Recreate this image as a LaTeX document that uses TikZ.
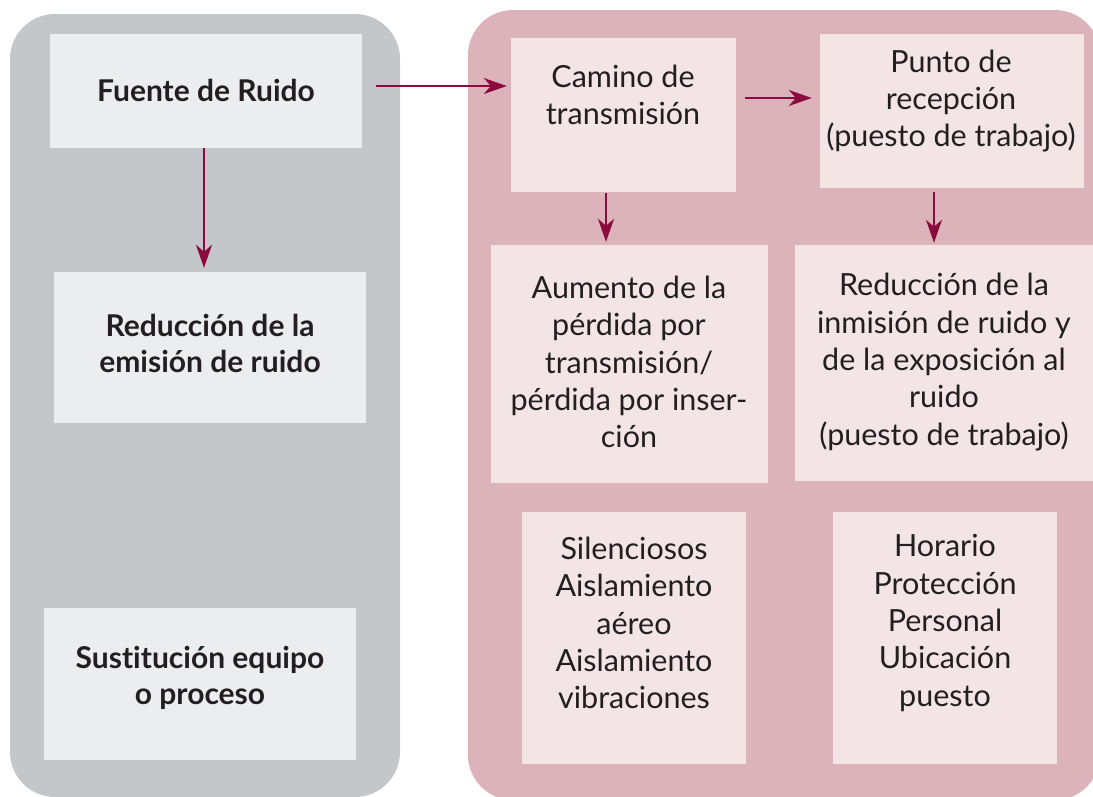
\documentclass[tikz,border=0pt]{standalone}
\usepackage{fontspec}
\setmainfont{Lato}[Ligatures={NoCommon}]
\usetikzlibrary{arrows.meta}
\definecolor{panelgray}{HTML}{C4C7CA}
\definecolor{boxgray}{HTML}{ECEDEF}
\definecolor{panelpink}{HTML}{DCB3BA}
\definecolor{boxpink}{HTML}{F3E4E6}
\definecolor{arrowred}{HTML}{8C0B3F}
\definecolor{txtcol}{HTML}{231F20}
\begin{document}
\begin{tikzpicture}[x=1pt,y=-1pt,
  graybox/.style={fill=boxgray, draw=none, inner sep=0pt},
  pinkbox/.style={fill=boxpink, draw=none, inner sep=0pt},
  txt/.style={text=txtcol, align=center, inner sep=0pt, font=\fontsize{30.5}{37.3}\selectfont},
  btxt/.style={txt, font=\fontsize{30}{36}\selectfont\bfseries},
  arr/.style={draw=arrowred, line width=2pt, -{Stealth[length=23pt,width=16pt,inset=7pt]}}
]
\useasboundingbox (0,0) rectangle (1093,796);
% panels
\fill[panelgray, rounded corners=45pt] (10,14) rectangle (400,797);
\fill[panelpink, rounded corners=45pt] (468,10) rectangle (1100,800);
% boxes
\node[graybox, minimum width=312pt, minimum height=114pt] (fuente) at (206,91) {};
\node[graybox, minimum width=312pt, minimum height=151pt] (redem) at (210,347.5) {};
\node[graybox, minimum width=312pt, minimum height=152pt] (sust) at (200,684) {};
\node[pinkbox, minimum width=225pt, minimum height=154pt] (camino) at (623.5,115) {};
\node[pinkbox, minimum width=264pt, minimum height=154pt] (punto) at (952,111) {};
\node[pinkbox, minimum width=277pt, minimum height=238pt] (aumento) at (629.5,364) {};
\node[pinkbox, minimum width=305pt, minimum height=236pt] (redin) at (947.5,363) {};
\node[pinkbox, minimum width=224pt, minimum height=252pt] (silen) at (634,638) {};
\node[pinkbox, minimum width=224pt, minimum height=252pt] (horario) at (945,638) {};
% texts
\node[btxt] (fuente-t) at (206,90) {Fuente de Ruido};
\node[btxt] (redem-t) at (210,343) {Reducción de la\\emisión de ruido};
\node[btxt] (sust-t) at (200,678) {Sustitución equipo\\o proceso};
\node[txt] (camino-t) at (623,95) {Camino de\\transmisión};
\node[txt] (punto-t) at (951,101) {Punto de\\recepción\\(puesto de trabajo)};
\node[txt] (aumento-t) at (629,362) {Aumento de la\\pérdida por\\transmisión/\\pérdida por inser-\\ción};
\node[txt] (redin-t) at (944,362) {Reducción de la\\inmisión de ruido y\\de la exposición al\\ruido\\(puesto de trabajo)};
\node[txt] (silen-t) at (634,623) {Silenciosos\\Aislamiento\\aéreo\\Aislamiento\\vibraciones};
\node[txt] (horario-t) at (945,623) {Horario\\Protección\\Personal\\Ubicación\\puesto};
% connectors
\coordinate (a1) at ([xshift=14pt,yshift=5pt]fuente.east);
\draw[arr, shorten >=4pt] (a1) -- (a1 -| camino.west);
\coordinate (a2) at ([xshift=9pt,yshift=17pt]camino.east);
\draw[arr, shorten >=8pt] (a2) -- (a2 -| punto.west);
\coordinate (a3) at ([xshift=-2pt]fuente.south);
\draw[arr, shorten >=4pt] (a3) -- (a3 |- redem.north);
\coordinate (a4) at ([xshift=-17.5pt,yshift=-1pt]camino.south);
\draw[arr, shorten >=3pt] (a4) -- (a4 |- aumento.north);
\coordinate (a5) at ([xshift=-18pt,yshift=-4pt]punto.south);
\draw[arr, shorten >=2pt] (a5) -- (a5 |- redin.north);
\end{tikzpicture}
\end{document}
